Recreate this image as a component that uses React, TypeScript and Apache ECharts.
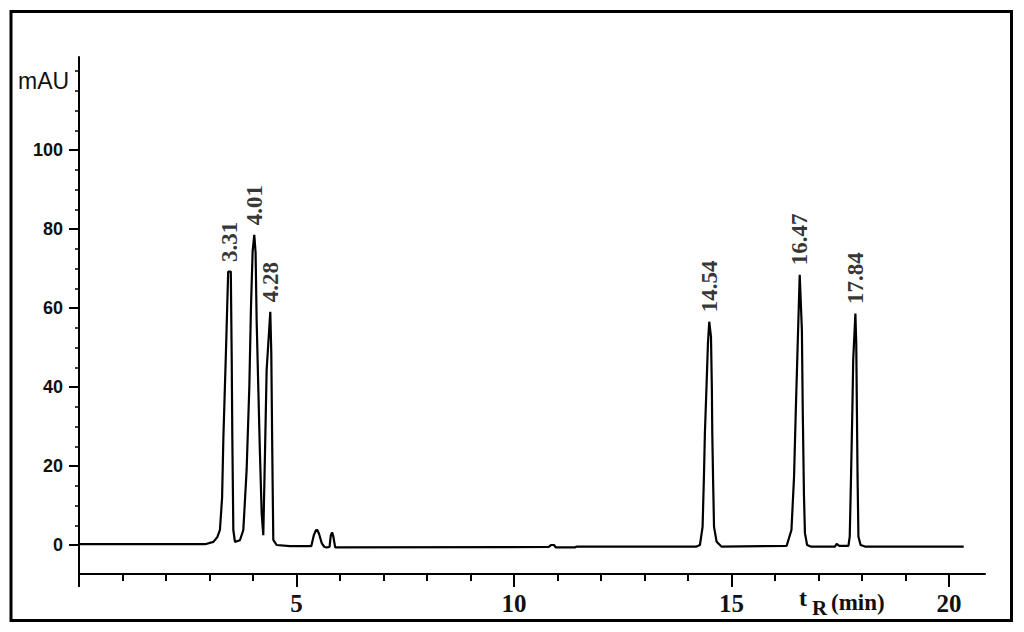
import { useEffect, useRef } from 'react';
import * as echarts from 'echarts';

// Chromatogram trace: [retention time (min), absorbance (mAU)]
const chromatogram: [number, number][] = [
  [0, 0.2], [2.9, 0.2], [3.09, 0.8], [3.18, 2.0], [3.24, 3.8], [3.29, 12],
  [3.32, 27.4], [3.38, 49.4], [3.43, 69.2], [3.49, 69.2], [3.51, 48.6],
  [3.525, 27.4], [3.548, 3.8], [3.586, 0.8], [3.7, 1.2], [3.778, 3.8],
  [3.854, 19], [3.916, 40], [3.954, 60.3], [3.992, 74.3], [4.03, 78.5],
  [4.06, 74], [4.084, 57], [4.122, 40], [4.16, 23.2], [4.2, 8], [4.237, 2.5],
  [4.276, 23.2], [4.314, 44.3], [4.352, 51], [4.398, 59], [4.421, 48.6],
  [4.444, 23.2], [4.467, 1.3], [4.544, 0], [4.85, -0.3], [5.34, -0.3],
  [5.4, 2.5], [5.45, 3.8], [5.48, 3.8], [5.52, 2.8], [5.58, 0.5], [5.64, -0.5],
  [5.7, -0.6], [5.76, -0.5], [5.79, 2.5], [5.82, 3.2], [5.85, 2.0], [5.89, -0.6],
  [10.8, -0.5], [10.86, 0], [10.92, 0], [10.96, -0.6], [11.4, -0.6], [11.45, -0.4],
  [14.2, -0.4], [14.276, 0], [14.337, 4.6], [14.368, 17.3], [14.39, 28.3],
  [14.43, 41], [14.46, 51], [14.49, 56.5], [14.53, 52.7], [14.55, 40],
  [14.56, 28.3], [14.58, 15.6], [14.6, 4.6], [14.66, 0.8], [14.77, -0.4],
  [16.27, -0.2], [16.38, 3.8], [16.44, 17.3], [16.48, 34], [16.52, 49.4],
  [16.57, 68.4], [16.62, 54.4], [16.64, 34], [16.667, 13], [16.69, 3],
  [16.74, 0], [16.82, -0.4], [17.38, -0.4], [17.42, 0.3], [17.48, -0.2],
  [17.69, -0.2], [17.72, 2.1], [17.75, 17.3], [17.78, 34], [17.8, 46.8],
  [17.85, 58.6], [17.87, 51], [17.885, 34], [17.9, 17.3], [17.92, 2.1],
  [17.97, 0], [18.07, -0.4], [20.34, -0.4],
];

// Peak annotations
const peakLabels = ['3.31', '4.01', '4.28', '14.54', '16.47', '17.84'];
const peakTimes = [3.46, 4.03, 4.4, 14.49, 16.57, 17.85];
const peakHeights = [69.2, 78.5, 59, 56.5, 68.4, 58.6];

// Axis ranges and tick labels
const xRange = [0, 20.83];
const yRange = [-7.34, 123.5];
const xTickLabels = [5, 10, 15, 20];
const yTickLabels = [0, 20, 40, 60, 80, 100];

const black = { color: '#000', width: 2 };

export default function App() {
  const ref = useRef<HTMLDivElement>(null);

  useEffect(() => {
    if (!ref.current) return;
    const chart = echarts.init(ref.current, undefined, { renderer: 'svg' });

    const option: any = {
      animation: false,
      backgroundColor: '#fff',
      grid: [
        { left: 79, right: 39, top: 57, bottom: 58 },
        { left: 79, width: 870, top: 57, bottom: 58 },
        { left: 79, width: 870, top: 150, height: 395 },
        { left: 79, width: 870, top: 71, height: 474 },
      ],
      xAxis: [
        {
          gridIndex: 0, type: 'value', min: xRange[0], max: xRange[1],
          axisLine: { show: true, onZero: false, lineStyle: black },
          axisTick: { show: false }, axisLabel: { show: false }, splitLine: { show: false },
        },
        {
          gridIndex: 1, type: 'value', min: 0, max: 20, interval: 5,
          axisLine: { show: false, onZero: false },
          axisTick: { show: true, length: 13, lineStyle: black },
          minorTick: { show: true, splitNumber: 5, length: 7, lineStyle: black },
          splitLine: { show: false }, minorSplitLine: { show: false },
          axisLabel: {
            show: true, margin: 17,
            formatter: (v: number) => (xTickLabels.includes(v) ? String(v) : ''),
            fontFamily: '"Liberation Serif", "Times New Roman", serif',
            fontWeight: 'bold', fontSize: 25, color: '#111',
          },
        },
        { gridIndex: 2, type: 'value', show: false, min: 0, max: 20 },
        { gridIndex: 3, type: 'value', show: false, min: 0, max: 20 },
      ],
      yAxis: [
        {
          gridIndex: 0, type: 'value', min: yRange[0], max: yRange[1],
          axisLine: { show: true, onZero: false, lineStyle: black },
          axisTick: { show: false }, axisLabel: { show: false }, splitLine: { show: false },
        },
        { gridIndex: 1, type: 'value', show: false, min: 0, max: 1 },
        {
          gridIndex: 2, type: 'value', min: 0, max: 100, interval: 20,
          axisLine: { show: false, onZero: false },
          axisTick: { show: true, length: 10, lineStyle: black },
          splitLine: { show: false },
          axisLabel: {
            show: true, margin: 16,
            formatter: (v: number) => (yTickLabels.includes(v) ? String(v) : ''),
            fontFamily: '"Liberation Sans", Arial, sans-serif',
            fontWeight: 'bold', fontSize: 18, color: '#111',
          },
        },
        {
          gridIndex: 3, type: 'value', min: 0, max: 120, interval: 5,
          axisLine: { show: false, onZero: false },
          axisTick: { show: true, length: 4, lineStyle: { color: '#000', width: 1.5 } },
          splitLine: { show: false }, axisLabel: { show: false },
        },
      ],
      series: [
        {
          type: 'line', xAxisIndex: 0, yAxisIndex: 0,
          data: chromatogram, symbol: 'none', smooth: false,
          lineStyle: { color: '#000', width: 2.2 },
        },
        {
          type: 'scatter', xAxisIndex: 0, yAxisIndex: 0,
          symbolSize: 1, itemStyle: { color: 'transparent' },
          data: peakTimes.map((t, i) => ({ value: [t, peakHeights[i]], name: peakLabels[i] })),
          label: {
            show: true, position: 'top', distance: 9, rotate: 90,
            align: 'left', verticalAlign: 'middle',
            formatter: (p: any) => p.name,
            fontFamily: '"Liberation Serif", "Times New Roman", serif',
            fontWeight: 'bold', fontSize: 23, color: '#000',
            textBorderWidth: 0,
          },
        },
      ],
      graphic: [
        {
          type: 'rect', shape: { x: 11, y: 11.5, width: 1000.5, height: 609 },
          style: { fill: 'none', stroke: '#000', lineWidth: 3 }, silent: true,
        },
        {
          type: 'text', x: 18, y: 81,
          style: {
            text: 'mAU', fill: '#111', fontSize: 23,
            fontFamily: '"Liberation Sans", Arial, sans-serif',
            verticalAlign: 'middle', align: 'left',
          },
        },
        {
          type: 'text', x: 799, y: 598,
          style: {
            text: 't', fill: '#111', fontSize: 24, fontWeight: 'bold',
            fontFamily: '"Liberation Serif", "Times New Roman", serif',
            verticalAlign: 'middle', align: 'left',
          },
        },
        {
          type: 'text', x: 812, y: 608,
          style: {
            text: 'R', fill: '#111', fontSize: 21, fontWeight: 'bold',
            fontFamily: '"Liberation Serif", "Times New Roman", serif',
            verticalAlign: 'middle', align: 'left',
          },
        },
        {
          type: 'text', x: 831, y: 602,
          style: {
            text: '(min)', fill: '#111', fontSize: 23, fontWeight: 'bold',
            fontFamily: '"Liberation Serif", "Times New Roman", serif',
            verticalAlign: 'middle', align: 'left',
          },
        },
      ],
    };

    chart.setOption(option);
    return () => chart.dispose();
  }, []);

  return (
    <div
      ref={ref}
      style={{ position: 'fixed', left: 0, top: 0, width: 1024, height: 632, background: '#fff' }}
    />
  );
}
